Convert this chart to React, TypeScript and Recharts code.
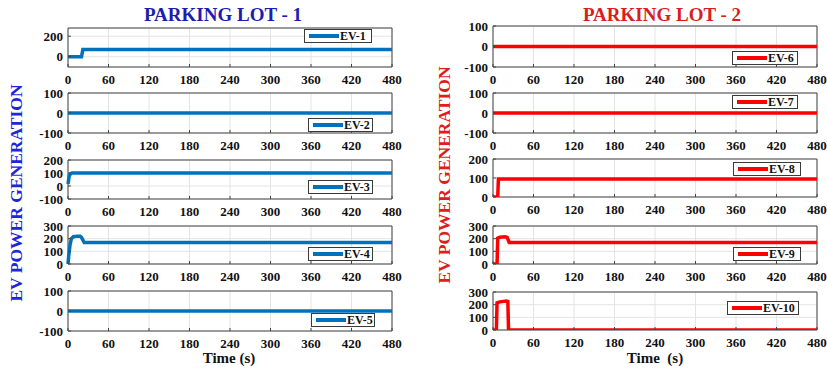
import React from "react";
import {LineChart, Line, XAxis, YAxis, CartesianGrid, ReferenceArea, Legend} from "recharts";

// time axis (s)
const timeTicks = [0, 60, 120, 180, 240, 300, 360, 420, 480];

// parking lot 1
const ev1Time = [0, 20, 22, 480];
const ev1Power = [0, 0, 70, 70];
const ev2Time = [0, 480];
const ev2Power = [0, 0];
const ev3Time = [0, 1, 2, 4, 6, 480];
const ev3Power = [15, 50, 80, 95, 100, 100];
const ev4Time = [0, 1, 3, 5, 8, 14, 18, 20, 24, 480];
const ev4Power = [0, 60, 150, 200, 215, 220, 220, 210, 170, 170];
const ev5Time = [0, 480];
const ev5Power = [0, 0];

// parking lot 2
const ev6Time = [0, 480];
const ev6Power = [0, 0];
const ev7Time = [0, 480];
const ev7Power = [0, 0];
const ev8Time = [0, 7, 8, 480];
const ev8Power = [0, 0, 95, 95];
const ev9Time = [0, 6, 7, 10, 18, 21, 24, 480];
const ev9Power = [0, 0, 205, 212, 215, 210, 170, 170];
const ev10Time = [0, 5, 6, 10, 20, 22, 23, 480];
const ev10Power = [0, 0, 215, 222, 228, 225, 0, 0];

const BLUE = "#0072BD";
const RED = "#FF0000";
const FONT = "'Liberation Serif', 'Times New Roman', serif";

const zip = (t: number[], p: number[]) => t.map((x, i) => ({t: x, p: p[i]}));

interface Panel {
    name: string
    data: { t: number, p: number }[]
    color: string
    x: number
    y: number
    w: number
    h: number
    domain: [number, number]
    ticks: number[]
    legendX: number
    legendY: number
    legendW: number
}

const panels: Panel[] = [
    {name: "EV-1", data: zip(ev1Time, ev1Power), color: BLUE, x: 68, y: 28, w: 324, h: 39, domain: [-100, 280], ticks: [0, 200], legendX: 304, legendY: 29, legendW: 68},
    {name: "EV-2", data: zip(ev2Time, ev2Power), color: BLUE, x: 68, y: 93, w: 324, h: 40, domain: [-100, 100], ticks: [-100, 0, 100], legendX: 308, legendY: 118, legendW: 65},
    {name: "EV-3", data: zip(ev3Time, ev3Power), color: BLUE, x: 68, y: 160, w: 324, h: 39, domain: [-100, 200], ticks: [-100, 0, 100, 200], legendX: 308, legendY: 180, legendW: 65},
    {name: "EV-4", data: zip(ev4Time, ev4Power), color: BLUE, x: 68, y: 226, w: 324, h: 38, domain: [0, 300], ticks: [0, 100, 200, 300], legendX: 308, legendY: 247, legendW: 65},
    {name: "EV-5", data: zip(ev5Time, ev5Power), color: BLUE, x: 68, y: 291, w: 324, h: 40, domain: [-100, 100], ticks: [-100, 0, 100], legendX: 311, legendY: 313, legendW: 64},
    {name: "EV-6", data: zip(ev6Time, ev6Power), color: RED, x: 493, y: 26, w: 324, h: 41, domain: [-100, 100], ticks: [-100, 0, 100], legendX: 732, legendY: 51, legendW: 66},
    {name: "EV-7", data: zip(ev7Time, ev7Power), color: RED, x: 493, y: 93, w: 324, h: 40, domain: [-100, 100], ticks: [-100, 0, 100], legendX: 732, legendY: 95, legendW: 66},
    {name: "EV-8", data: zip(ev8Time, ev8Power), color: RED, x: 493, y: 159, w: 324, h: 38, domain: [0, 200], ticks: [0, 100, 200], legendX: 733, legendY: 162, legendW: 68},
    {name: "EV-9", data: zip(ev9Time, ev9Power), color: RED, x: 493, y: 226, w: 324, h: 38, domain: [0, 300], ticks: [0, 100, 200, 300], legendX: 733, legendY: 247, legendW: 68},
    {name: "EV-10", data: zip(ev10Time, ev10Power), color: RED, x: 493, y: 292, w: 324, h: 38, domain: [0, 300], ticks: [0, 100, 200, 300], legendX: 727, legendY: 301, legendW: 72},
];

const tickStyle = {fill: "#111", fontSize: 13, fontWeight: "bold", fontFamily: FONT};

const LegendBox = ({name, color, width}: { name: string, color: string, width: number }) => (
    <div style={{
        width, height: 14, boxSizing: "border-box", border: "1px solid #3a3a3a", background: "#fff",
        display: "flex", alignItems: "center", paddingLeft: 4, whiteSpace: "nowrap", overflow: "visible"
    }}>
        <div style={{width: 30, height: 4, background: color, flexShrink: 0}}/>
        <span style={{fontFamily: FONT, fontWeight: "bold", fontSize: 12, color: "#111", marginLeft: 1, lineHeight: "12px"}}>{name}</span>
    </div>
);

const TOP = 9;

const Subplot = ({p}: { p: Panel }) => {
    const left = p.x - 45;
    const top = p.y - TOP;
    return (
        <div style={{position: "absolute", left, top}}>
            <LineChart width={45 + p.w + 14} height={TOP + p.h + 22} data={p.data}
                       margin={{top: TOP, right: 14, left: 0, bottom: 0}}>
                <CartesianGrid stroke="#e4e4e4"/>
                <XAxis dataKey="t" type="number" domain={[0, 480]} ticks={timeTicks} interval={0}
                       tickLine={{stroke: "#444"}} axisLine={false} tickSize={-3} tickMargin={11} height={22}
                       tick={tickStyle}/>
                <YAxis type="number" domain={p.domain} ticks={p.ticks} interval={0} allowDataOverflow
                       tickLine={{stroke: "#444"}} axisLine={false} tickSize={-3} tickMargin={8} width={45}
                       tick={tickStyle}/>
                <Line type="linear" dataKey="p" stroke={p.color} strokeWidth={3.5} dot={false}
                      isAnimationActive={false}/>
                <ReferenceArea x1={0} x2={480} y1={p.domain[0]} y2={p.domain[1]} fill="none"
                               stroke="#444" strokeWidth={1} ifOverflow="visible"/>
                <Legend layout="vertical" verticalAlign="middle" align="center"
                        wrapperStyle={{left: p.legendX - left, top: p.legendY - top, width: "auto"}}
                        content={() => <LegendBox name={p.name} color={p.color} width={p.legendW}/>}/>
            </LineChart>
        </div>
    );
};

const textBase: React.CSSProperties = {position: "absolute", fontFamily: FONT, fontWeight: "bold", whiteSpace: "nowrap"};

const App = () => {
    return (
        <div style={{position: "absolute", left: 0, top: 0, width: 827, height: 370, background: "#fff", overflow: "hidden"}}>
            <div style={{...textBase, left: 223, top: 15, transform: "translate(-50%, -50%)", fontSize: 19, color: "#1c1cb0"}}>
                PARKING LOT - 1
            </div>
            <div style={{...textBase, left: 662, top: 15, transform: "translate(-50%, -50%)", fontSize: 19, color: "#d81e1e"}}>
                PARKING LOT - 2
            </div>
            <div style={{...textBase, left: 16, top: 193, transform: "translate(-50%, -50%) rotate(-90deg)", fontSize: 17.5, color: "#1f26d6"}}>
                EV POWER GENERATION
            </div>
            <div style={{...textBase, left: 444, top: 175, transform: "translate(-50%, -50%) rotate(-90deg)", fontSize: 17.5, color: "#e01c1c"}}>
                EV POWER GENERATION
            </div>
            <div style={{...textBase, left: 229, top: 358, transform: "translate(-50%, -50%)", fontSize: 15, color: "#111"}}>
                Time (s)
            </div>
            <div style={{...textBase, left: 655, top: 358, transform: "translate(-50%, -50%)", fontSize: 15, color: "#111"}}>
                Time&nbsp;&nbsp;(s)
            </div>
            {panels.map((p) => <Subplot key={p.name} p={p}/>)}
        </div>
    );
};

export default App;
